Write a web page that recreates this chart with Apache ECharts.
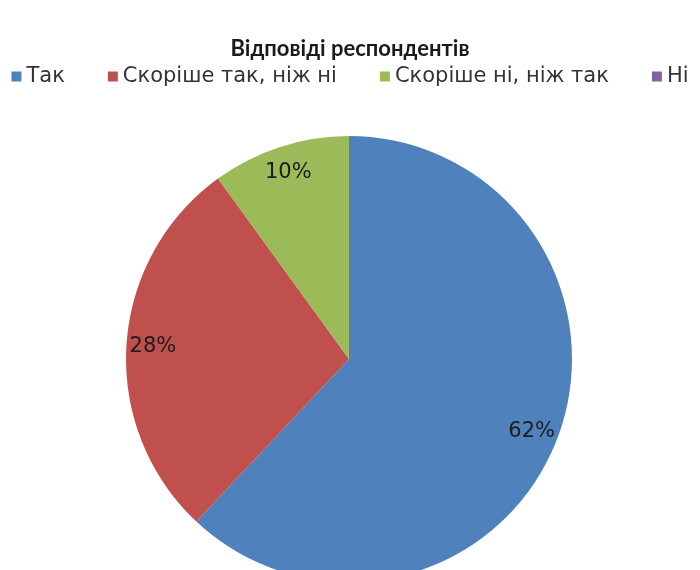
<!DOCTYPE html>
<html>
<head>
<meta charset="utf-8">
<script src="https://cdn.jsdelivr.net/npm/echarts@6/dist/echarts.min.js"></script>
<style>
html,body{margin:0;padding:0;background:#fff;}
#chart{width:700px;height:570px;}
</style>
</head>
<body>
<div id="chart"></div>
<script>
const titleText = 'Відповіді респондентів';
const categories = ['Так', 'Скоріше так, ніж ні', 'Скоріше ні, ніж так', 'Ні'];
const values = [62, 28, 10, 0];
const colors = ['#4F81BD', '#C0504D', '#9BBB59', '#8064A2'];

const pieData = categories.map((c, i) => ({ name: c, value: values[i] }));
const TITLE_FONT = 'Lato, "Open Sans", sans-serif';
const FONT = '"DejaVu Sans", "Open Sans", sans-serif';
const chart = echarts.init(document.getElementById('chart'), null, { renderer: 'canvas' });
chart.setOption({
  backgroundColor: '#ffffff',
  animation: false,
  color: colors,
  title: {
    text: titleText,
    left: 'center',
    top: 33,
    textStyle: { fontFamily: TITLE_FONT, fontSize: 22, fontWeight: 'bold', color: '#1a1a1a' }
  },
  legend: {
    data: categories,
    left: 'center',
    top: 61,
    icon: 'rect',
    itemWidth: 10,
    itemHeight: 10,
    itemGap: 43,
    textStyle: { fontFamily: FONT, fontSize: 21, color: '#333' }
  },
  series: [
    {
      type: 'pie',
      center: [349, 359],
      radius: [0, 223],
      startAngle: 90,
      clockwise: true,
      data: pieData,
      label: { show: false },
      labelLine: { show: false },
      itemStyle: { borderWidth: 0 },
      silent: true
    },
    {
      type: 'pie',
      center: [349, 359],
      radius: [164, 223],
      startAngle: 90,
      clockwise: true,
      data: pieData,
      percentPrecision: 0,
      minShowLabelAngle: 1,
      silent: true,
      itemStyle: { color: 'transparent', borderWidth: 0 },
      label: {
        show: true,
        position: 'inside',
        formatter: '{d}%',
        fontFamily: FONT,
        fontSize: 21,
        color: '#1c1c1c'
      },
      labelLine: { show: false }
    }
  ]
});
</script>
</body>
</html>
